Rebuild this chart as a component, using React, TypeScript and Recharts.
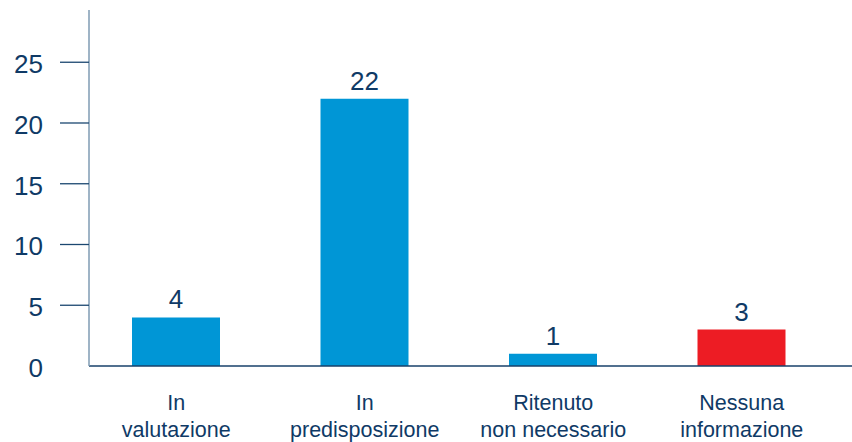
import React from "react";
import { BarChart, Bar, XAxis, YAxis, Cell, LabelList } from "recharts";

const categories = ["In\nvalutazione", "In\npredisposizione", "Ritenuto\nnon necessario", "Nessuna\ninformazione"];
const counts = [4, 22, 1, 3];
const barColors = ["#0096d6", "#0096d6", "#0096d6", "#ed1c24"];
const yTicks = [0, 5, 10, 15, 20, 25];

const data = categories.map((name, i) => ({ name, value: counts[i], color: barColors[i] }));

const TEXT = "#0f3a66";
const FONT = "'Liberation Sans', Arial, Helvetica, sans-serif";
const AXIS_X = 89;

function YTick(props: any) {
  const { y, payload } = props;
  return (
    <g>
      {payload.value > 0 && (
        <line x1={AXIS_X - 29} x2={AXIS_X} y1={y} y2={y} stroke="#1b4770" strokeWidth={1.3} />
      )}
      <text x={43} y={y + 11} textAnchor="end" fill={TEXT} fontSize={26} fontFamily={FONT}>
        {payload.value}
      </text>
    </g>
  );
}

// two-line category labels, split on "\n"
function XTick(props: any) {
  const { x, y, payload } = props;
  const lines = String(payload.value).split("\n");
  return (
    <text x={x} y={y} textAnchor="middle" fill={TEXT} fontSize={21.5} fontFamily={FONT}>
      {lines.map((line, i) => (
        <tspan key={i} x={x} y={y + 36 + i * 27}>
          {line}
        </tspan>
      ))}
    </text>
  );
}

export default function App() {
  return (
    <div style={{ position: "absolute", left: 0, top: 0, background: "#fff" }}>
      <BarChart
        width={852}
        height={442}
        data={data}
        margin={{ top: 10, right: 0, left: 0, bottom: 0 }}
      >
        <XAxis
          dataKey="name"
          interval={0}
          height={76}
          padding={{ left: -7, right: 16 }}
          axisLine={{ stroke: "#17416a", strokeWidth: 1.5 }}
          tickLine={false}
          tick={<XTick />}
        />
        <YAxis
          width={AXIS_X}
          domain={[0, 29.3]}
          ticks={yTicks}
          interval={0}
          allowDataOverflow
          axisLine={{ stroke: "#7f9bb3", strokeWidth: 1.5 }}
          tickLine={false}
          tick={<YTick />}
        />
        <Bar dataKey="value" barSize={88} isAnimationActive={false}>
          {data.map((d, i) => (
            <Cell key={`cell-${i}`} fill={d.color} />
          ))}
          <LabelList
            dataKey="value"
            position="top"
            offset={9}
            fill={TEXT}
            fontSize={26}
            fontFamily={FONT}
          />
        </Bar>
      </BarChart>
    </div>
  );
}
